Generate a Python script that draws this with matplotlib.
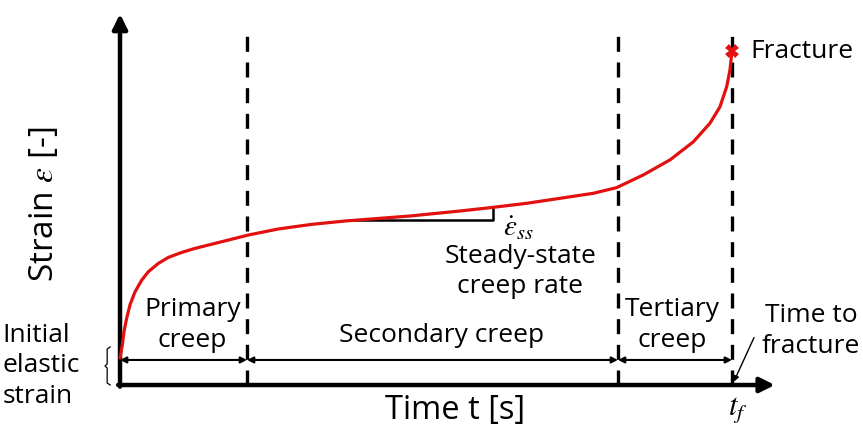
import numpy as np
import matplotlib
matplotlib.use("Agg")
import matplotlib.pyplot as plt

plt.rcParams["font.family"] = ["Open Sans", "DejaVu Sans"]
plt.rcParams["mathtext.fontset"] = "stix"

# creep curve, time normalised so t_f = 100, strain so fracture strain = 10
time = [0.0, 0.38, 0.65, 1.09, 1.63, 2.45, 3.55, 4.62, 6.26, 7.89, 10.08,
        12.25, 15.52, 18.79, 20.96, 25.82, 31.32, 36.76, 47.39, 55.56, 61.00,
        66.45, 71.90, 77.34, 81.16, 85.51, 89.87, 93.68, 96.41, 98.04, 99.13,
        99.67, 100.0]
strain = [0.81, 1.20, 1.60, 2.00, 2.40, 2.79, 3.14, 3.39, 3.64, 3.82, 3.97,
          4.09, 4.24, 4.39, 4.49, 4.67, 4.81, 4.91, 5.06, 5.21, 5.32, 5.44,
          5.59, 5.74, 5.91, 6.29, 6.74, 7.28, 7.84, 8.33, 8.93, 9.43, 10.0]

# stage boundaries: end of primary, end of secondary, fracture
stage_bounds = [0.0, 20.75, 81.37, 100.0]
stage_names = ["Primary\ncreep", "Secondary creep", "Tertiary\ncreep"]

# slope triangle for the steady-state rate
slope_t = [38.07, 61.0]

CURVE_RED = "#e31010"

fig = plt.figure(figsize=(8.63, 4.28), dpi=100)
ax = fig.add_axes([0, 0, 1, 1])
ax.set_xlim(-19.61, 121.41)
ax.set_ylim(-1.287, 11.527)
ax.axis("off")

# axes with arrow heads
ax.annotate("", xy=(107.0, 0), xytext=(-0.3, 0),
            arrowprops=dict(arrowstyle="-|>", lw=3.2, color="black",
                            mutation_scale=22, shrinkA=0, shrinkB=0))
ax.annotate("", xy=(0, 11.11), xytext=(0, -0.05),
            arrowprops=dict(arrowstyle="-|>", lw=3.2, color="black",
                            mutation_scale=22, shrinkA=0, shrinkB=0))

# stage boundaries
for tb in stage_bounds[1:]:
    ax.plot([tb, tb], [0, 10.66], color="black", lw=2.4,
            dashes=(4.5, 3.2), solid_capstyle="butt", zorder=2)

# stage extent arrows
arrow_level = 0.75
for t0, t1 in zip(stage_bounds[:-1], stage_bounds[1:]):
    ax.annotate("", xy=(t1, arrow_level), xytext=(t0, arrow_level),
                arrowprops=dict(arrowstyle="<|-|>", lw=1.5, color="black",
                                mutation_scale=9, shrinkA=0, shrinkB=0))

# creep curve and fracture point
ax.plot(time, strain, color=CURVE_RED, lw=2.3, solid_joinstyle="round",
        solid_capstyle="round", zorder=3)
ax.plot(time[-1], strain[-1], marker="X", color=CURVE_RED, ms=10, mew=0, zorder=4)

# steady-state slope triangle
s0 = np.interp(slope_t[0], time, strain)
s1 = np.interp(slope_t[1], time, strain)
ax.plot([slope_t[0], slope_t[1], slope_t[1]], [s0, s0, s1],
        color="black", lw=1.8, zorder=2)

fs = 19
ls = 1.3
ax.text(11.8, 1.8, stage_names[0], ha="center", va="center", fontsize=fs,
        linespacing=ls)
ax.text(52.6, 1.47, stage_names[1], ha="center", va="center", fontsize=fs)
ax.text(90.2, 1.8, stage_names[2], ha="center", va="center", fontsize=fs,
        linespacing=ls)

ax.text(62.6, 4.68, r"$\dot{\varepsilon}_{ss}$", ha="left", va="center",
        fontsize=21)
ax.text(65.4, 3.4, "Steady-state\ncreep rate", ha="center", va="center",
        fontsize=fs, linespacing=ls)

ax.text(103.0, strain[-1], "Fracture", ha="left", va="center", fontsize=fs)

ax.text(112.9, 1.62, "Time to\nfracture", ha="center", va="center",
        fontsize=fs, linespacing=ls)
ax.annotate("", xy=(100.3, 0.1), xytext=(103.6, 1.42),
            arrowprops=dict(arrowstyle="-|>", lw=1.0, color="black",
                            mutation_scale=8, shrinkA=0, shrinkB=0))

ax.text(-19.2, 0.57, "Initial\nelastic\nstrain", ha="left", va="center",
        fontsize=fs, linespacing=ls)
# curly brace marking the initial elastic strain
bx = [-1.6, -2.1, -2.1, -2.45, -2.1, -2.1, -1.6]
by = [1.14, 1.08, 0.63, 0.57, 0.51, 0.06, 0.0]
ax.plot(bx, by, color="black", lw=0.9)

ax.text(54.7, -0.75, "Time t [s]", ha="center", va="center", fontsize=23.5)
ax.text(100.9, -0.75, r"$t_f$", ha="center", va="center", fontsize=22)
ax.text(-12.3, 5.4, r"Strain $\varepsilon$ [-]", ha="center", va="center",
        fontsize=24, rotation=90)

fig.savefig("out.png", dpi=100)
